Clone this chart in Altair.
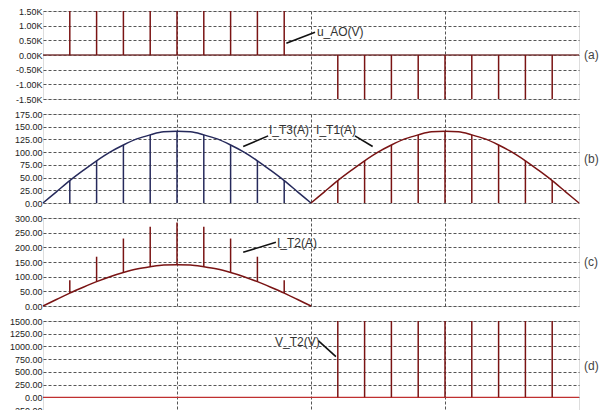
import altair as alt
import pandas as pd

# ---------------- data ----------------
# time axis: 0..20 (one period), half period = 10
t_arc = [0, 0.5, 1, 1.5, 2, 2.5, 3, 3.5, 4, 4.5, 5, 5.5, 6, 6.5, 7, 7.5, 8, 8.5, 9, 9.5, 10]
arc_vals = [0, 22, 44, 64, 83, 100, 114, 126, 134, 140, 141, 140, 134, 126, 114, 100, 83, 64, 44, 22, 0]
pulse_first = [1, 2, 3, 4, 5, 6, 7, 8, 9]
pulse_second = [11, 12, 13, 14, 15, 16, 17, 18, 19]
arc_at_pulse = [44, 83, 114, 134, 141, 134, 114, 83, 44]
it2_spike_top = [88, 168, 230, 270, 285, 270, 230, 168, 88]
uao_pulse = 1500
vt2_pulse = 1500

yt_a = [-1500, -1000, -500, 0, 500, 1000, 1500]
yt_b = [0, 25, 50, 75, 100, 125, 150, 175]
yt_c = [0, 50, 100, 150, 200, 250, 300]
yt_d = [-250, 0, 250, 500, 750, 1000, 1250, 1500]

# annotations: label, text x/y, leader start x/y, leader end x/y
ann_a = ["u_AO(V)", 10.22, 774, 9.08, 399, 10.15, 774]
ann_b1 = ["I_T3(A)", 8.43, 143, 7.47, 111, 8.40, 132]
ann_b2 = ["I_T1(A)", 10.19, 143, 11.64, 132, 12.30, 111]
ann_c = ["I_T2(A)", 8.73, 214, 7.47, 183, 8.69, 217]
ann_d = ["V_T2(V)", 8.66, 1093, 10.27, 1113, 10.93, 798]

# ---------------- style ----------------
W = 536
H = 88
FONT = "Liberation Sans Narrow, Arial Narrow, Liberation Sans, Arial, sans-serif"
RED = "#7a1414"
NAVY = "#262a5c"
GRID = "#555555"

XAXIS = alt.Axis(values=[5, 10, 15], grid=True, gridDash=[3, 2], gridColor=GRID,
                 gridWidth=1, labels=False, ticks=False, domain=False, title=None)


def X(field="t"):
    return alt.X(f"{field}:Q", scale=alt.Scale(domain=[0, 20], nice=False, zero=False), axis=XAXIS)


def Y(field, dom, ticks, expr):
    return alt.Y(f"{field}:Q", scale=alt.Scale(domain=dom, nice=False, zero=False),
                 axis=alt.Axis(values=ticks, labelExpr=expr, grid=True, gridDash=[3, 2],
                               gridColor=GRID, gridWidth=1, ticks=False, domain=False,
                               title=None, labelPadding=1, labelFontSize=9,
                               labelColor="#222", labelFont=FONT, labelOverlap=False))


EXPR_K = "(datum.value < 0 ? '-' : '') + format(abs(datum.value) / 1000, '.2f') + 'K'"
EXPR_2 = "(datum.value < 0 ? '-' : '') + format(abs(datum.value), '.2f')"


def hline(t0, t1, v, dom, ticks, expr, color, width=1.3):
    df = pd.DataFrame({"t0": [t0], "t1": [t1], "v": [v]})
    return alt.Chart(df).mark_rule(color=color, strokeWidth=width).encode(
        x=X("t0"), x2=alt.X2("t1"), y=Y("v", dom, ticks, expr))


def vrules(ts, lo, hi, dom, ticks, expr, color, width=1.5):
    df = pd.DataFrame({"t": ts, "v0": lo, "v1": hi})
    return alt.Chart(df).mark_rule(color=color, strokeWidth=width).encode(
        x=X("t"), y=Y("v0", dom, ticks, expr), y2=alt.Y2("v1"))


def arc(shift, dom, ticks, expr, color):
    df = pd.DataFrame({"t": [t + shift for t in t_arc], "v": arc_vals})
    return alt.Chart(df).mark_line(color=color, strokeWidth=1.5, interpolate="monotone").encode(
        x=X("t"), y=Y("v", dom, ticks, expr))


def annot(a, dom, ticks, expr):
    lab, tx, ty, x0, y0, x1, y1 = a
    dt = pd.DataFrame({"lab": [lab], "t": [tx], "v": [ty]})
    dl = pd.DataFrame({"t0": [x0], "v0": [y0], "t1": [x1], "v1": [y1]})
    txt = alt.Chart(dt).mark_text(align="left", baseline="middle", fontSize=12,
                                  font=FONT, color="#333").encode(
        x=X("t"), y=Y("v", dom, ticks, expr), text="lab:N")
    ln = alt.Chart(dl).mark_rule(color="#111", strokeWidth=1.6).encode(
        x=X("t0"), x2=alt.X2("t1"), y=Y("v0", dom, ticks, expr), y2=alt.Y2("v1"))
    return [ln, txt]


def side_label(s, h):
    return alt.Chart(pd.DataFrame({"lab": [s]})).mark_text(
        align="left", baseline="middle", fontSize=12, font=FONT, color="#444").encode(
        x=alt.value(W + 5), y=alt.value(h / 2), text="lab:N")


# ---------------- panel (a) u_AO ----------------
da, ea = [-1500, 1500], EXPR_K
pa = alt.layer(
    hline(0, 20, 0, da, yt_a, ea, "#7a3a3a"),
    vrules(pulse_first, [0] * 9, [uao_pulse] * 9, da, yt_a, ea, RED),
    vrules(pulse_second, [0] * 9, [-uao_pulse] * 9, da, yt_a, ea, RED),
    *annot(ann_a, da, yt_a, ea),
    side_label("(a)", H),
).properties(width=W, height=H)

# ---------------- panel (b) I_T3 / I_T1 ----------------
db, eb = [0, 175], EXPR_2
pb = alt.layer(
    arc(0, db, yt_b, eb, NAVY),
    arc(10, db, yt_b, eb, RED),
    vrules(pulse_first, [0] * 9, arc_at_pulse, db, yt_b, eb, NAVY),
    vrules(pulse_second, [0] * 9, arc_at_pulse, db, yt_b, eb, RED),
    *annot(ann_b1, db, yt_b, eb),
    *annot(ann_b2, db, yt_b, eb),
    side_label("(b)", H + 1),
).properties(width=W, height=H + 1)

# ---------------- panel (c) I_T2 ----------------
dc, ec = [0, 300], EXPR_2
pc = alt.layer(
    arc(0, dc, yt_c, ec, RED),
    vrules(pulse_first, arc_at_pulse, it2_spike_top, dc, yt_c, ec, RED),
    *annot(ann_c, dc, yt_c, ec),
    side_label("(c)", H),
).properties(width=W, height=H)

# ---------------- panel (d) V_T2 ----------------
dd, ed = [-250, 1500], EXPR_2
pd_ = alt.layer(
    hline(0, 20, 0, dd, yt_d, ed, "#c03030"),
    vrules(pulse_second, [0] * 9, [vt2_pulse] * 9, dd, yt_d, ed, RED),
    *annot(ann_d, dd, yt_d, ed),
    side_label("(d)", H + 1),
).properties(width=W, height=H + 1)

chart = alt.vconcat(pa, pb, pc, pd_, spacing=15, bounds="flush").properties(
    padding={"left": 0, "top": -2, "right": 0, "bottom": 0}
).configure_view(stroke="#444", strokeWidth=1.3).configure(background="white")

chart.save("out.html", embed_options={"renderer": "svg", "actions": False})
